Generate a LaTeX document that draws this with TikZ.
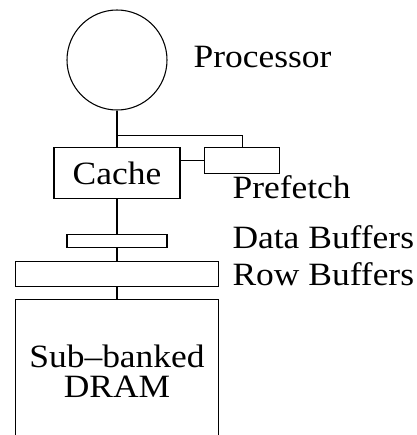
\documentclass[tikz,border=0pt]{standalone}
\usepackage{fontspec}
\setmainfont[FakeStretch=1.09]{Liberation Serif}
\usetikzlibrary{calc}

\begin{document}
\begin{tikzpicture}[x=0.75pt, y=-0.75pt, line width=0.8pt,
    every node/.style={font=\fontsize{24.4pt}{22.5pt}\selectfont},
    unitBox/.style={draw, rectangle, inner sep=0pt, align=center},
    labelText/.style={anchor=base west, inner sep=0pt}]
    % Define pixel unit
    \def\pxUnit{0.75pt}

    % Fix the picture area
    \clip (0,0) rectangle (417,435);

    % Draw the processor and the memory blocks
    \node[draw, circle, inner sep=0pt, minimum size=100*\pxUnit] (proc) at (117,60) {};
    \node[unitBox, minimum width=126*\pxUnit, minimum height=50.6*\pxUnit] (cache) at (117,173) {Cache};
    \node[unitBox, minimum width=75.3*\pxUnit, minimum height=26*\pxUnit] (pref) at (242.3,160.7) {};
    \node[unitBox, minimum width=100*\pxUnit, minimum height=12.7*\pxUnit] (data) at (117,241.3) {};
    \node[unitBox, minimum width=203.3*\pxUnit, minimum height=25*\pxUnit] (row) at (117,274.2) {};
    \node[unitBox, minimum width=203.3*\pxUnit, minimum height=143.4*\pxUnit] (dram) at (117,371) {Sub--banked\\DRAM};

    % Label the blocks
    \node[labelText] (procLabel) at (193,68) {Processor};
    \node[labelText] (prefLabel) at (232,198) {Prefetch};
    \node[labelText] (dataLabel) at (232,248) {Data Buffers};
    \node[labelText] (rowLabel) at (232,285) {Row Buffers};

    % Draw the connections
    \coordinate (tap) at ($(proc.south)!0.69!(cache.north)$);
    \draw (proc.south) -- (cache.north);
    \draw (tap) -| (pref.north);
    \draw (pref.west) -- (pref.west -| cache.east);
    \draw (cache.south) -- (data.north);
    \draw (data.south) -- (row.north);
    \draw (row.south) -- (dram.north);

\end{tikzpicture}
\end{document}
